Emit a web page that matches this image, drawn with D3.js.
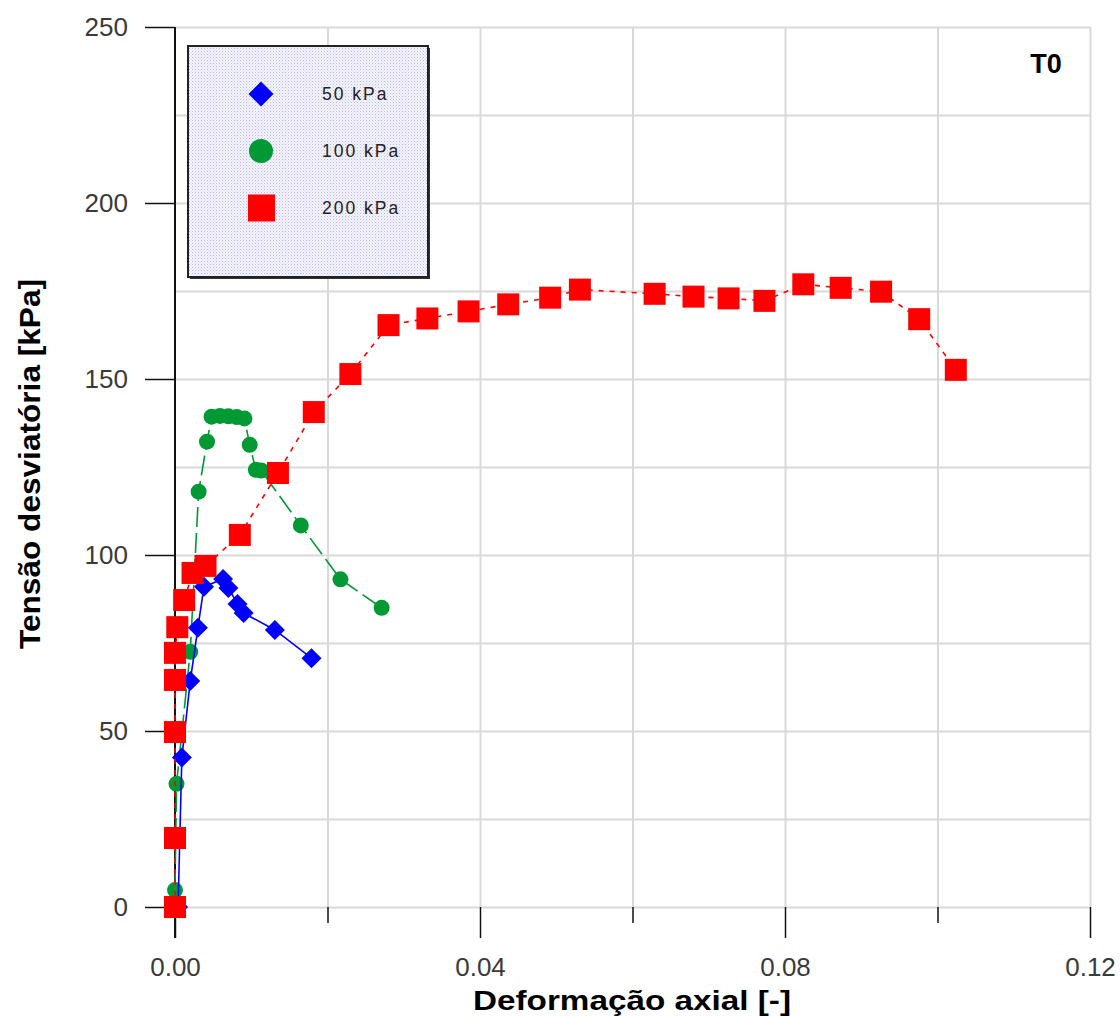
<!DOCTYPE html>
<html>
<head>
<meta charset="utf-8">
<script src="https://cdn.jsdelivr.net/npm/d3@7"></script>
<style>
  html, body { margin: 0; padding: 0; background: #fff; }
  svg { display: block; font-family: Arial, "Liberation Sans", sans-serif; }
</style>
</head>
<body>
<svg id="chart" width="1120" height="1016"></svg>
<script>
// ---- data ----
const seriesNames = ["50 kPa", "100 kPa", "200 kPa"];

const strain50 = [0.0004, 0.0009, 0.0020, 0.0030, 0.0038, 0.0063, 0.0070, 0.0082, 0.0090, 0.0131, 0.0179];
const stress50 = [0, 42.5, 64.2, 79.3, 91.0, 93.2, 90.6, 86.1, 83.5, 78.7, 70.7];

const strain100 = [0.0000, 0.0002, 0.0020, 0.0031, 0.0042, 0.0048, 0.0059, 0.0070, 0.0081, 0.0091, 0.0098, 0.0106, 0.0113, 0.0165, 0.0217, 0.0271];
const stress100 = [4.8, 35.0, 72.5, 118.0, 132.2, 139.3, 139.5, 139.4, 139.2, 138.8, 131.3, 124.2, 124.0, 108.4, 93.1, 85.0];

const strain200 = [0, 0, 0, 0, 0, 0.0003, 0.0012, 0.0023, 0.0040, 0.0085, 0.0135, 0.0182, 0.0230, 0.0280, 0.0331, 0.0385, 0.0437, 0.0492, 0.0531, 0.0629, 0.0680, 0.0726, 0.0773, 0.0824, 0.0873, 0.0926, 0.0976, 0.1024];
const stress200 = [0, 19.6, 49.7, 64.5, 72.2, 79.5, 87.2, 94.9, 96.9, 105.7, 123.3, 140.6, 151.4, 165.3, 167.2, 169.2, 171.2, 173.1, 175.4, 174.2, 173.4, 172.9, 172.2, 176.9, 175.9, 174.8, 167.0, 152.6];

const xMajorTicks = [0, 0.04, 0.08, 0.12];
const xMinorTicks = [0.02, 0.06, 0.10];
const yMajorTicks = [0, 50, 100, 150, 200, 250];
const yGridTicks = [0, 25, 50, 75, 100, 125, 150, 175, 200, 225, 250];
const xGridTicks = [0.02, 0.04, 0.06, 0.08, 0.10, 0.12];

const xTitle = "Deformação axial [-]";
const yTitle = "Tensão desviatória [kPa]";
const panelLabel = "T0";

// ---- layout ----
const svg = d3.select("#chart");
const x = d3.scaleLinear().domain([0, 0.12]).range([175, 1090]);
const y = d3.scaleLinear().domain([0, 250]).range([907, 27]);

// pattern for legend fill
const defs = svg.append("defs");
const pat = defs.append("pattern").attr("id", "dots").attr("width", 3).attr("height", 3)
  .attr("patternUnits", "userSpaceOnUse");
pat.append("rect").attr("width", 3).attr("height", 3).attr("fill", "#f5f5fd");
pat.append("rect").attr("width", 1).attr("height", 1).attr("fill", "#b8b8ec");
pat.append("rect").attr("x", 1.5).attr("y", 1.5).attr("width", 1).attr("height", 1).attr("fill", "#ccccf2");

// gridlines
const gridColor = "#d9d9d9";
svg.append("g").attr("transform", `translate(0,${y(0)})`)
  .call(d3.axisBottom(x).tickValues(xGridTicks).tickSize(-(y(0) - y(250))).tickFormat(""))
  .call(g => g.select(".domain").remove())
  .call(g => g.selectAll("line").attr("stroke", gridColor).attr("stroke-width", 2));
svg.append("g").attr("transform", `translate(${x(0)},0)`)
  .call(d3.axisLeft(y).tickValues(yGridTicks).tickSize(-(x(0.12) - x(0))).tickFormat(""))
  .call(g => g.select(".domain").remove())
  .call(g => g.selectAll("line").attr("stroke", gridColor).attr("stroke-width", 2));

// x axis ticks
const tickFont = 26;
svg.append("g").attr("transform", `translate(0,${y(0)})`)
  .call(d3.axisBottom(x).tickValues(xMajorTicks).tickSize(31).tickPadding(20).tickFormat(d3.format(".2f")))
  .call(g => g.select(".domain").remove())
  .call(g => g.selectAll("line").attr("stroke", "#111").attr("stroke-width", 1.5))
  .call(g => g.selectAll("text").attr("font-size", tickFont).attr("fill", "#3a3a3a")
      .attr("font-family", "Arial, 'Liberation Sans', sans-serif"));
svg.append("g").attr("transform", `translate(0,${y(0)})`)
  .call(d3.axisBottom(x).tickValues(xMinorTicks).tickSize(16).tickFormat(""))
  .call(g => g.select(".domain").remove())
  .call(g => g.selectAll("line").attr("stroke", "#111").attr("stroke-width", 1.5));

// y axis
svg.append("g").attr("transform", `translate(${x(0)},0)`)
  .call(d3.axisLeft(y).tickValues(yMajorTicks).tickSize(30).tickPadding(17).tickFormat(d3.format("d")))
  .call(g => g.select(".domain").remove())
  .call(g => g.selectAll("line").attr("stroke", "#111").attr("stroke-width", 1.5))
  .call(g => g.selectAll("text").attr("font-size", tickFont).attr("fill", "#3a3a3a")
      .attr("font-family", "Arial, 'Liberation Sans', sans-serif"));
svg.append("line")
  .attr("x1", x(0)).attr("x2", x(0)).attr("y1", y(250)).attr("y2", y(0) + 31)
  .attr("stroke", "#111").attr("stroke-width", 2);

// series
function pts(xs, ys) { return xs.map((v, i) => [v, ys[i]]); }
const d50 = pts(strain50, stress50);
const d100 = pts(strain100, stress100);
const d200 = pts(strain200, stress200);

const line = d3.line().x(d => x(d[0])).y(d => y(d[1]));

const green = "#009933", blue = "#0000ff", red = "#ff0000";

// green (100 kPa)
svg.append("path").datum(d100).attr("d", line).attr("fill", "none")
  .attr("stroke", green).attr("stroke-width", 1.6).attr("stroke-dasharray", "20,6");
svg.append("g").selectAll("circle").data(d100).join("circle")
  .attr("cx", d => x(d[0])).attr("cy", d => y(d[1])).attr("r", 8).attr("fill", green);

// blue (50 kPa)
svg.append("path").datum(d50).attr("d", line).attr("fill", "none")
  .attr("stroke", blue).attr("stroke-width", 1.6);
const diamond = (cx, cy, s) => `M${cx},${cy - s}L${cx + s},${cy}L${cx},${cy + s}L${cx - s},${cy}Z`;
svg.append("g").selectAll("path").data(d50).join("path")
  .attr("d", d => diamond(x(d[0]), y(d[1]), 10)).attr("fill", blue);

// red (200 kPa)
svg.append("path").datum(d200).attr("d", line).attr("fill", "none")
  .attr("stroke", red).attr("stroke-width", 1.6).attr("stroke-dasharray", "5,6");
svg.append("g").selectAll("rect").data(d200).join("rect")
  .attr("x", d => x(d[0]) - 11).attr("y", d => y(d[1]) - 11)
  .attr("width", 22).attr("height", 22).attr("fill", red);

// legend
const lg = svg.append("g");
lg.append("rect").attr("x", 190).attr("y", 48).attr("width", 240).attr("height", 231).attr("fill", "#333");
lg.append("rect").attr("x", 188).attr("y", 46).attr("width", 240).attr("height", 231)
  .attr("fill", "url(#dots)").attr("stroke", "#222").attr("stroke-width", 2);
const legY = [94, 151, 208];
lg.append("path").attr("d", diamond(261, legY[0], 12.5)).attr("fill", blue);
lg.append("circle").attr("cx", 261).attr("cy", legY[1]).attr("r", 12).attr("fill", green);
lg.append("rect").attr("x", 248).attr("y", legY[2] - 13.5).attr("width", 27).attr("height", 27).attr("fill", red);
lg.selectAll("text.leg").data(seriesNames).join("text").attr("class", "leg")
  .attr("x", 322).attr("y", (d, i) => legY[i]).attr("dy", "0.35em")
  .attr("font-size", 17.5).attr("letter-spacing", 2).attr("fill", "#222").text(d => d);

// panel label
svg.append("text").attr("x", 1046).attr("y", 73).attr("text-anchor", "middle")
  .attr("font-size", 27).attr("font-weight", "bold").attr("fill", "#000").text(panelLabel);

// axis titles
svg.append("text").attr("x", 632).attr("y", 1010).attr("text-anchor", "middle")
  .attr("font-size", 27).attr("font-weight", "bold").attr("fill", "#000")
  .attr("textLength", 318).attr("lengthAdjust", "spacingAndGlyphs").text(xTitle);
svg.append("text").attr("transform", "translate(40,464) rotate(-90)").attr("text-anchor", "middle")
  .attr("font-size", 30).attr("font-weight", "bold").attr("fill", "#000")
  .attr("textLength", 370).attr("lengthAdjust", "spacingAndGlyphs").text(yTitle);
</script>
</body>
</html>
